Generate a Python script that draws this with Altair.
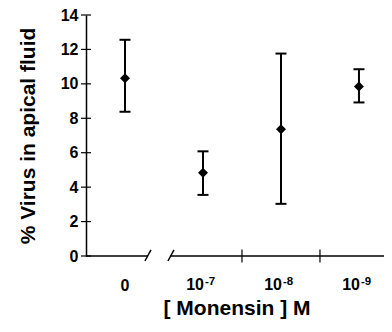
import altair as alt
import pandas as pd

# ---- data ----
positions = [0, 1, 2, 3]
label_base = ["0", "10", "10", "10"]
label_exp = ["", "-7", "-8", "-9"]
means = [10.33, 4.83, 7.36, 9.85]
upper = [12.56, 6.08, 11.76, 10.85]
lower = [8.38, 3.55, 3.03, 8.92]
y_tick_values = [0, 2, 4, 6, 8, 10, 12, 14]
x_tick_values = [1.5, 2.5]

# ---- layout / style constants ----
FONT = "Liberation Sans"
X_END = 3.321
X_DOMAIN = [-0.5, X_END]
Y_DOMAIN = [0, 14]
axis_segments = pd.DataFrame({"x": [-0.5, 0.577], "x2": [0.295, X_END]})
break_marks = pd.DataFrame({"x": [0.256, 0.551], "x2": [0.333, 0.628],
                            "y": [-0.29, -0.29], "y2": [0.35, 0.35]})

df = pd.DataFrame({"pos": positions, "base": label_base, "exp": label_exp,
                   "mean": means, "hi": upper, "lo": lower})
yticks_df = pd.DataFrame({"v": y_tick_values})
xticks_df = pd.DataFrame({"v": x_tick_values})

xs = alt.Scale(domain=X_DOMAIN, nice=False, zero=False)
ys = alt.Scale(domain=Y_DOMAIN, nice=False, zero=False)
yaxis = alt.Axis(title="% Virus in apical fluid", values=y_tick_values,
                 ticks=False, tickSize=0, labelPadding=8, labelFont=FONT,
                 labelFontSize=16, labelFontWeight="bold", labelColor="black",
                 domainColor="black", domainWidth=1.5, grid=False,
                 titleFont=FONT, titleFontSize=21, titleFontWeight="bold",
                 titleColor="black", titleAngle=-90, titleAlign="center",
                 titleBaseline="alphabetic", titleX=-51.5, titleY=120.5)

X = lambda f: alt.X(f, type="quantitative", scale=xs, axis=None)
Y = lambda f: alt.Y(f, type="quantitative", scale=ys, axis=yaxis)

base = alt.Chart(df)

bars = base.mark_rule(color="black", strokeWidth=2).encode(
    x=X("pos"), y=Y("lo"), y2="hi")
cap_hi = base.mark_tick(orient="horizontal", size=11, thickness=2, color="black", opacity=1).encode(
    x=X("pos"), y=Y("hi"))
cap_lo = base.mark_tick(orient="horizontal", size=11, thickness=2, color="black", opacity=1).encode(
    x=X("pos"), y=Y("lo"))
points = base.mark_point(shape="diamond", filled=True, size=100, color="black", opacity=1).encode(
    x=X("pos"), y=Y("mean"))

ytick_marks = alt.Chart(yticks_df).mark_tick(orient="horizontal", size=10, thickness=1.2,
                                             color="black", opacity=1).encode(
    x=alt.value(0), y=Y("v"))
xtick_marks = alt.Chart(xticks_df).mark_tick(orient="vertical", size=13, thickness=1.2,
                                             color="black", opacity=1).encode(
    x=X("v"), y=alt.value(241))

segs = alt.Chart(axis_segments).mark_rule(color="black", strokeWidth=1.5).encode(
    x=X("x"), x2="x2", y=alt.value(241))
breaks = alt.Chart(break_marks).mark_rule(color="black", strokeWidth=1.5).encode(
    x=X("x"), x2="x2", y=Y("y"), y2="y2")

zero_label = base.transform_filter("datum.exp == ''").mark_text(
    font=FONT, fontSize=16, fontWeight="bold", align="center", baseline="alphabetic",
    color="black").encode(x=X("pos"), y=alt.value(276), text="base:N")
pow_label = base.transform_filter("datum.exp != ''").mark_text(
    font=FONT, fontSize=16, fontWeight="bold", align="right", baseline="alphabetic",
    dx=1, color="black").encode(x=X("pos"), y=alt.value(275), text="base:N")
exp_label = base.transform_filter("datum.exp != ''").mark_text(
    font=FONT, fontSize=11.5, fontWeight="bold", align="left", baseline="alphabetic",
    dx=2, color="black").encode(x=X("pos"), y=alt.value(270), text="exp:N")

x_title = alt.Chart(pd.DataFrame({"t": ["[ Monensin ] M"]})).mark_text(
    font=FONT, fontSize=21, fontWeight="bold", align="center", baseline="alphabetic",
    color="black").encode(x=alt.value(151), y=alt.value(300), text="t:N")

chart = alt.layer(
    segs, breaks, xtick_marks, ytick_marks, bars, cap_hi, cap_lo, points,
    zero_label, pow_label, exp_label, x_title
).properties(
    width=298, height=241,
    autosize=alt.AutoSizeParams(type="none"),
    padding={"left": 78, "top": 7, "right": 0, "bottom": 64},
).configure_view(stroke=None)

chart.save("out.html", embed_options={"renderer": "svg", "actions": False})
